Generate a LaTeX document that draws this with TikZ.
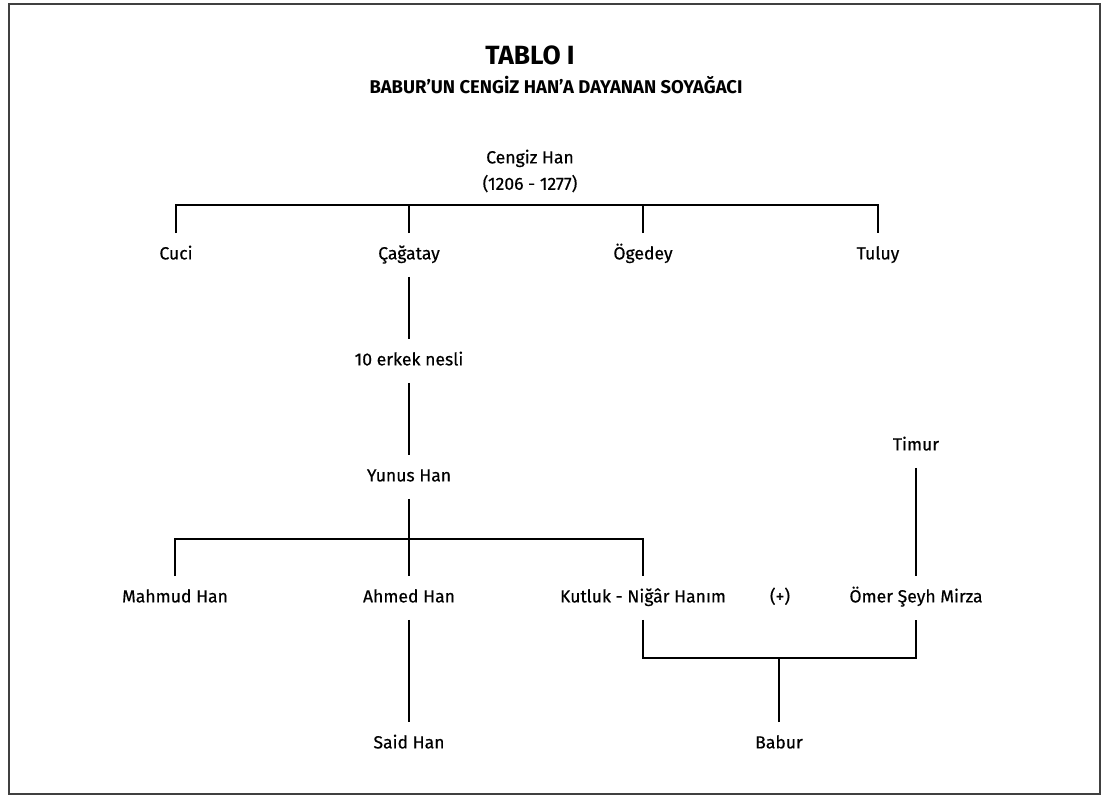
\documentclass[tikz,border=0pt]{standalone}
\usepackage{fontspec}
\setmainfont{Fira Sans}
\newfontfamily\kalin{Fira Sans}[FakeBold=0.4]
\usetikzlibrary{positioning}
\tikzset{kisi/.style={inner xsep=2pt,inner ysep=7.5pt,text height=7pt,text depth=2pt,
  font=\kalin\fontsize{10}{12}\selectfont}}
\newcommand{\baslik}[1]{\textbf{\fontsize{15}{17}\selectfont #1}}

\begin{document}
\begin{tikzpicture}[x=0.02cm,y=-0.02cm,line width=0.9pt]
\useasboundingbox (0,0) rectangle (1105,797);
\draw[line width=0.8pt,black!75] (9,4) rectangle (1100,794);

\node (tablo) at (530,55) {\baslik{TABLO I}};
\node (altbaslik) at (556,85) {\textbf{\fontsize{10.5}{12}\selectfont BABUR'UN CENGİZ HAN'A DAYANAN SOYAĞACI}};

\node[font=\kalin\fontsize{10}{12}\selectfont,align=center] (cengiz) at (530,171) {Cengiz Han\\[3pt](1206 - 1277)};
\coordinate (bar1) at (530,205);
\node[kisi] (cuci) at (176,255) {Cuci};
\node[kisi] (cagatay) at (409,255) {Çağatay};
\node[kisi] (ogedey) at (643,255) {Ögedey};
\node[kisi] (tuluy) at (878,255) {Tuluy};

\node[kisi] (nesil) at (409,361) {10 erkek nesli};
\node[kisi] (yunus) at (409,477) {Yunus Han};

\coordinate (bar2) at (409,539);
\node[kisi] (mahmud) at (175,598) {Mahmud Han};
\node[kisi] (ahmed) at (409,598) {Ahmed Han};
\node[kisi] (kutluk) at (643,598) {Kutluk - Niğâr Hanım};
\node[kisi] (arti) at (780,598) {(+)};
\node[kisi] (omer) at (916,598) {Ömer Şeyh Mirza};
\node[kisi] (timur) at (916,446) {Timur};

\coordinate (bar3) at (779,658);
\node[kisi] (said) at (409,744) {Said Han};
\node[kisi] (babur) at (779,744) {Babur};

\draw (cuci.north) |- (bar1) -| (tuluy.north);
\draw (cagatay.north) -- (cagatay.north |- bar1);
\draw (ogedey.north) -- (ogedey.north |- bar1);
\draw (cagatay) -- (nesil);
\draw (nesil) -- (yunus);
\draw (yunus) -- (ahmed);
\draw (mahmud.north) |- (bar2) -| (kutluk.north);
\draw (ahmed) -- (said);
\draw (timur) -- (omer);
\draw (kutluk.south) |- (bar3) -| (omer.south);
\draw (babur.north) -- (babur.north |- bar3);
\end{tikzpicture}
\end{document}
